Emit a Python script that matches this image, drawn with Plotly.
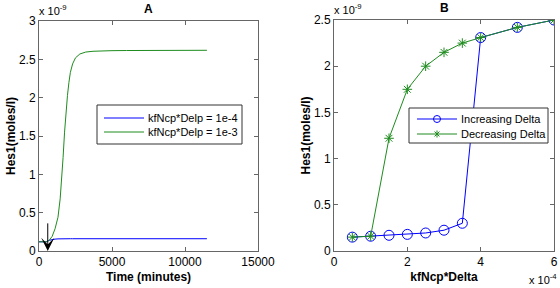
import plotly.graph_objects as go

# Panel A data (time in minutes, Hes1 in 1e-9 moles/l)
t_vals = [0, 300, 500, 700, 900, 1100, 1300, 1450, 1550, 1650, 1750, 1850, 1950, 2050, 2150, 2300, 2500, 2800, 3200, 3700, 4200, 5000, 6000, 8000, 10000, 11500]
hes_low = [0.12, 0.12, 0.12, 0.14, 0.15, 0.155, 0.158, 0.16, 0.16, 0.16, 0.16, 0.16, 0.16, 0.16, 0.16, 0.16, 0.16, 0.16, 0.16, 0.16, 0.16, 0.16, 0.16, 0.16, 0.16, 0.16]
hes_high = [0.12, 0.12, 0.12, 0.14, 0.19, 0.29, 0.44, 0.68, 0.92, 1.22, 1.55, 1.82, 2.03, 2.20, 2.33, 2.44, 2.52, 2.57, 2.595, 2.605, 2.61, 2.613, 2.615, 2.617, 2.618, 2.618]
names_a = ["kfNcp*Delp = 1e-4", "kfNcp*Delp = 1e-3"]

# Panel B data (kfNcp*Delta in 1e-4, Hes1 in 1e-9)
delta = [0.5, 1, 1.5, 2, 2.5, 3, 3.5, 4, 5, 6]
hes_inc = [0.15, 0.16, 0.17, 0.18, 0.195, 0.225, 0.30, 2.31, 2.42, 2.50]
hes_dec = [0.15, 0.16, 1.22, 1.75, 2.00, 2.15, 2.25, 2.31, 2.42, 2.50]
names_b = ["Increasing Delta", "Decreasing Delta"]

yticks_a = [0, 0.5, 1, 1.5, 2, 2.5, 3]
yticks_b = [0, 0.5, 1, 1.5, 2, 2.5]
xticks_a = [0, 5000, 10000, 15000]
xticks_b = [0, 2, 4, 6]

BLUE = "#0000ff"
GREEN = "#1e8c1e"
AXC = "#666666"
FONT = "Liberation Sans, Arial, sans-serif"
W, H = 560, 288


def px(x):
    return x / W


def py(y):
    return 1 - y / H


fig = go.Figure()
fig.add_trace(go.Scatter(x=t_vals, y=hes_low, mode="lines", line=dict(color=BLUE, width=1),
                         name=names_a[0], xaxis="x", yaxis="y"))
fig.add_trace(go.Scatter(x=t_vals, y=hes_high, mode="lines", line=dict(color=GREEN, width=1),
                         name=names_a[1], xaxis="x", yaxis="y"))
fig.add_trace(go.Scatter(x=delta, y=hes_inc, mode="lines+markers", line=dict(color=BLUE, width=1),
                         marker=dict(symbol="circle-open", size=10, color=BLUE, line=dict(width=1)),
                         name=names_b[0], xaxis="x2", yaxis="y2"))
fig.add_trace(go.Scatter(x=delta, y=hes_dec, mode="lines+markers", line=dict(color=GREEN, width=1),
                         marker=dict(symbol="asterisk-open", size=8, color=GREEN, line=dict(width=1, color=GREEN)),
                         name=names_b[1], xaxis="x2", yaxis="y2"))

axis_common = dict(showgrid=False, zeroline=False, showline=True, linecolor=AXC, linewidth=1,
                   mirror="ticks", ticks="inside", ticklen=4, tickcolor=AXC, automargin=False,
                   tickfont=dict(size=12, color="black", family=FONT))

fig.update_layout(
    width=W, height=H,
    margin=dict(l=0, r=0, t=0, b=0),
    paper_bgcolor="white", plot_bgcolor="white",
    font=dict(family=FONT, size=12, color="black"),
    showlegend=False,
    xaxis=dict(domain=[px(39), px(258)], range=[0, 15000], tickvals=xticks_a,
               ticktext=[str(v) for v in xticks_a],
               title=dict(text="<b>Time (minutes)</b>", font=dict(size=12), standoff=4), anchor="y", **axis_common),
    yaxis=dict(domain=[py(251), py(21)], range=[0, 3], tickvals=yticks_a,
               ticktext=[f"{v:g}" for v in yticks_a],
               title=dict(text="<b>Hes1(moles/l)</b>", font=dict(size=12), standoff=0), anchor="x", **axis_common),
    xaxis2=dict(domain=[px(334), px(554)], range=[0, 6], tickvals=xticks_b,
                ticktext=[str(v) for v in xticks_b],
                title=dict(text="<b>kfNcp*Delta</b>", font=dict(size=12), standoff=4), anchor="y2", **axis_common),
    yaxis2=dict(domain=[py(251), py(20)], range=[0, 2.5], tickvals=yticks_b,
                ticktext=[f"{v:g}" for v in yticks_b],
                title=dict(text="<b>Hes1(moles/l)</b>", font=dict(size=12), standoff=0), anchor="x2", **axis_common),
)

shapes = []
annotations = []


def legend_box(x0, y0, x1, y1):
    shapes.append(dict(type="rect", xref="paper", yref="paper", x0=px(x0), x1=px(x1), y0=py(y0), y1=py(y1),
                       line=dict(color="#333333", width=1), fillcolor="white", layer="above"))


def legend_line(x0, x1, y, color):
    shapes.append(dict(type="line", xref="paper", yref="paper", x0=px(x0), x1=px(x1), y0=py(y), y1=py(y),
                       line=dict(color=color, width=1), layer="above"))


def legend_text(x, y, text):
    annotations.append(dict(text=text, x=px(x), y=py(y), xref="paper", yref="paper", showarrow=False,
                            font=dict(size=11), xanchor="left", yanchor="middle"))


# Legend A
legend_box(97, 105, 242, 144)
legend_line(104, 144, 118, BLUE)
legend_line(104, 144, 132, GREEN)
legend_text(146, 118, names_a[0])
legend_text(146, 132, names_a[1])

# Legend B
legend_box(409, 108, 548, 143)
legend_line(417, 457, 119, BLUE)
legend_line(417, 457, 134, GREEN)
shapes.append(dict(type="circle", xref="paper", yref="paper", x0=px(433.5), x1=px(440.5), y0=py(115.5), y1=py(122.5),
                   line=dict(color=BLUE, width=1), fillcolor="rgba(0,0,0,0)", layer="above"))
cx, cy, r = 437, 134, 3.5
for dx, dy in [(0, 1), (0.7, 0.7), (0.7, -0.7)]:
    shapes.append(dict(type="line", xref="paper", yref="paper", x0=px(cx - r * dx), x1=px(cx + r * dx),
                       y0=py(cy - r * dy), y1=py(cy + r * dy), line=dict(color=GREEN, width=1), layer="above"))
legend_text(459, 119, names_b[0])
legend_text(459, 134, names_b[1])

annotations += [
    dict(text="<b>A</b>", x=px(148), y=py(9), xref="paper", yref="paper", showarrow=False,
         font=dict(size=12), xanchor="center", yanchor="middle"),
    dict(text="<b>B</b>", x=px(444), y=py(8), xref="paper", yref="paper", showarrow=False,
         font=dict(size=12), xanchor="center", yanchor="middle"),
    dict(text="x 10<sup>-9</sup>", x=px(37), y=py(19), xref="paper", yref="paper", showarrow=False,
         font=dict(size=11), xanchor="left", yanchor="bottom"),
    dict(text="x 10<sup>-9</sup>", x=px(332), y=py(18), xref="paper", yref="paper", showarrow=False,
         font=dict(size=11), xanchor="left", yanchor="bottom"),
    dict(text="x 10<sup>-4</sup>", x=px(559), y=py(288), xref="paper", yref="paper", showarrow=False,
         font=dict(size=11), xanchor="right", yanchor="bottom"),
    dict(text="", x=600, y=0.0, xref="x", yref="y", ax=600, ay=0.38, axref="x", ayref="y",
         showarrow=True, arrowhead=3, arrowsize=2.2, arrowwidth=1, arrowcolor="black", standoff=0),
]
fig.update_layout(shapes=shapes, annotations=annotations)

fig.write_html("out.html", config={"displayModeBar": False},
               post_script="document.body.style.margin='0';document.body.style.padding='0';")
